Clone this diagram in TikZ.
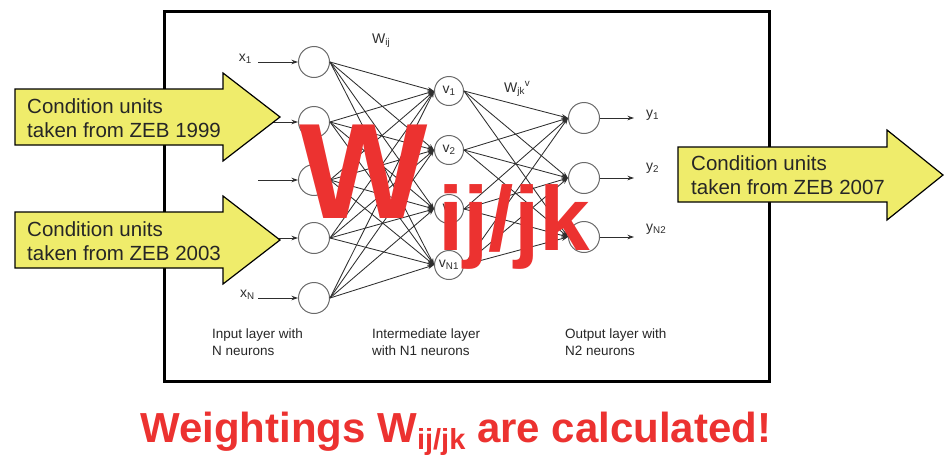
\documentclass[tikz,border=0pt]{standalone}
\usepackage{fontspec}
\setmainfont{Liberation Sans}
\usetikzlibrary{arrows.meta, positioning}
\definecolor{condyellow}{HTML}{EFEC6B}
\definecolor{weightred}{HTML}{EC3230}
\definecolor{netgray}{HTML}{2E2E2E}
\definecolor{ringgray}{HTML}{6A6A6A}

\begin{document}
\begin{tikzpicture}[
  x=1pt, y=-1pt,
  neuron/.style={circle, draw=ringgray, line width=1pt, fill=white, minimum size=31pt, inner sep=0pt, text=netgray, font=\fontsize{14}{14}\selectfont},
  link/.style={-{Stealth[length=6.5pt, width=4.5pt]}, draw=netgray, line width=0.85pt},
  condarrow/.style={draw=black, line width=1.2pt, fill=condyellow, line join=miter},
  condtext/.style={anchor=west, align=left, inner sep=0pt, text=black!85, font=\fontsize{20.5}{24}\selectfont},
  layertext/.style={anchor=west, align=left, inner sep=0pt, text=black!85, font=\fontsize{13.5}{17}\selectfont},
  nlabel/.style={inner sep=0pt, text=netgray, font=\fontsize{14}{14}\selectfont},
  bigred/.style={anchor=base west, inner sep=0pt, text=weightred}
]
  \useasboundingbox (0,0) rectangle (949,455);
  \draw[line width=3pt] (164.5,11.5) rectangle (769,381.5);

  % input layer
  \foreach \i/\y in {1/62, 2/122, 3/180, 4/238, 5/298} {
    \node[neuron] (in\i) at (314,\y) {};
    \coordinate (src\i) at (258,\y);
    \draw[link] (src\i) -- (in\i.west);
  }
  \node[nlabel, anchor=east] (xlab1) at (252,59) {x\textsubscript{1}};
  \node[nlabel, anchor=east] (xlabN) at (255,295) {x\textsubscript{N}};

  % intermediate layer
  \node[neuron, minimum size=29pt] (hid1) at (449,91) {v\textsubscript{1}};
  \node[neuron, minimum size=29pt] (hid2) at (449,150) {v\textsubscript{2}};
  \node[neuron, minimum size=29pt] (hid3) at (449,209) {v\textsubscript{3}};
  \node[neuron, minimum size=29pt] (hid4) at (449,265) {v\textsubscript{N1}};

  % output layer
  \foreach \k/\y in {1/118, 2/178, 3/237} {
    \node[neuron] (out\k) at (584,\y) {};
    \coordinate (dst\k) at (634,\y);
    \draw[link] (out\k.east) -- (dst\k);
  }
  \node[nlabel, anchor=west] (ylab1) at (646,115) {y\textsubscript{1}};
  \node[nlabel, anchor=west] (ylab2) at (646,168) {y\textsubscript{2}};
  \node[nlabel, anchor=west] (ylab3) at (646,229) {y\textsubscript{N2}};

  % weights
  \foreach \i in {1,...,5}
    \foreach \j in {1,...,4}
      \draw[link] (in\i.east) -- (hid\j.west);
  \foreach \j in {1,...,4}
    \foreach \k in {1,2,3}
      \draw[link] (hid\j.east) -- (out\k.west);
  \node[nlabel, anchor=west] (wij) at (372,41) {W\textsubscript{ij}};
  \node[nlabel, anchor=west] (wjk) at (504,89) {W\textsubscript{jk}\textsuperscript{v}};

  % layer captions
  \node[layertext] (inlayer) at (212,342) {Input layer with\\N neurons};
  \node[layertext] (midlayer) at (372,342) {Intermediate layer\\with N1 neurons};
  \node[layertext] (outlayer) at (565,342) {Output layer with\\N2 neurons};

  % condition unit arrows
  \draw[condarrow] (15,89) -- (223,89) -- (223,73) -- (280,117) -- (223,161) -- (223,145) -- (15,145) -- cycle;
  \node[condtext] (zeb1999) at (27,118) {Condition units\\taken from ZEB 1999};
  \draw[condarrow] (15,212) -- (223,212) -- (223,196) -- (280,240) -- (223,284) -- (223,268) -- (15,268) -- cycle;
  \node[condtext] (zeb2003) at (27,241) {Condition units\\taken from ZEB 2003};
  \draw[condarrow] (678,147) -- (887,147) -- (887,130) -- (943,175) -- (887,220) -- (887,202) -- (678,202) -- cycle;
  \node[condtext] (zeb2007) at (691,175) {Condition units\\taken from ZEB 2007};

  % weighting label
  \node[bigred, font=\fontsize{136}{136}\bfseries\selectfont] (bigw) at (299,218) {W};
  \node[bigred, font=\fontsize{91}{91}\bfseries\selectfont] (bigsub) at (438,250) {ij/jk};
  \node[bigred, font=\fontsize{42}{42}\bfseries\selectfont] (caption) at (140,442)
    {Weightings W{\fontsize{29}{29}\selectfont\raisebox{-7pt}{ij/jk}} are calculated!};
\end{tikzpicture}
\end{document}
